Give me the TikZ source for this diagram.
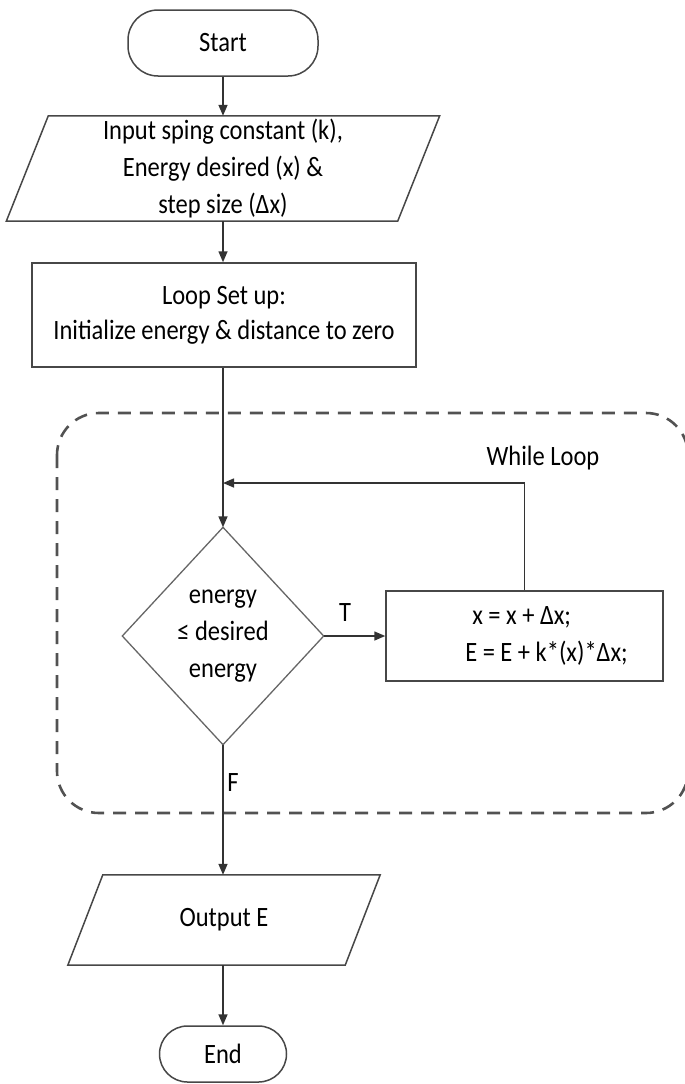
\documentclass[tikz,border=0pt]{standalone}
\usepackage{fontspec}
\setmainfont{Carlito}[FakeStretch=0.875]
\usetikzlibrary{arrows.meta,calc}
\begin{document}
\begin{tikzpicture}[x=1pt,y=-1pt,
  font=\fontsize{28}{37}\selectfont,
  ln/.style={draw=black!72, line width=1.5pt},
  box/.style={ln, rectangle, inner sep=0pt, align=center},
  term/.style={box, rounded corners=30pt},
  ghost/.style={rectangle, inner sep=0pt, align=center},
  arr/.style={draw=black!80, line width=1.5pt, -{Triangle[length=11pt,width=9pt]}},
  lbl/.style={inner sep=0pt},
  loopbox/.style={draw=black!68, line width=2.6pt, dash pattern=on 13pt off 9pt, rounded corners=42pt},
]
\useasboundingbox (0,0) rectangle (685,1084);
\draw[loopbox] (57,413) rectangle (688,813);

\node[term, minimum width=190pt, minimum height=66pt] (start) at (223,43) {Start};
\node[ghost, minimum width=391pt, minimum height=105pt] (in) at (223,168.5) {Input sping constant (k),\\Energy desired (x) \&\\step size (Δx)};
\draw[ln] ($(in.south west)+(-21,0)$) -- ($(in.south east)+(-21,0)$) -- ($(in.north east)+(21,0)$) -- ($(in.north west)+(21,0)$) -- cycle;
\node[box, minimum width=384pt, minimum height=104pt] (setup) at (224,315) {Loop Set up:\\[-2pt]Initialize energy \& distance to zero};
\node[ghost, minimum width=201pt, minimum height=217pt] (dec) at (223,636) {energy\\≤ desired\\energy};
\draw[draw=black!60, line width=1.3pt] (dec.north) -- (dec.east) -- (dec.south) -- (dec.west) -- cycle;
\node[box, minimum width=277pt, minimum height=90pt, align=left] (proc) at (524.5,636) {\hspace*{51pt}x = x + Δx;\\\hspace*{44pt}E = E + k*(x)*Δx;};
\node[ghost, minimum width=277pt, minimum height=90pt] (out) at (224,920) {Output E};
\draw[ln] ($(out.south west)+(-17.5,0)$) -- ($(out.south east)+(-17.5,0)$) -- ($(out.north east)+(17.5,0)$) -- ($(out.north west)+(17.5,0)$) -- cycle;
\node[term, minimum width=127pt, minimum height=56pt, rounded corners=28pt] (stop) at (223,1054) {End};

\node[lbl] (wl) at (543,458) {While Loop};
\node[lbl] (tl) at (345,613) {T};
\node[lbl] (fl) at (233,783) {F};
\coordinate (j) at (223,483);

\draw[arr] (start.south) -- (start.south |- in.north);
\draw[arr] (in.south) -- (in.south |- setup.north);
\draw[arr] (setup.south -| dec.north) -- (dec.north);
\draw[arr] (proc.north) -- (proc.north |- j) -- (j);
\draw[arr] (dec.east) -- (proc.west);
\draw[arr] (dec.south) -- (dec.south |- out.north);
\draw[arr] (out.south -| stop.north) -- (stop.north);
\end{tikzpicture}
\end{document}
